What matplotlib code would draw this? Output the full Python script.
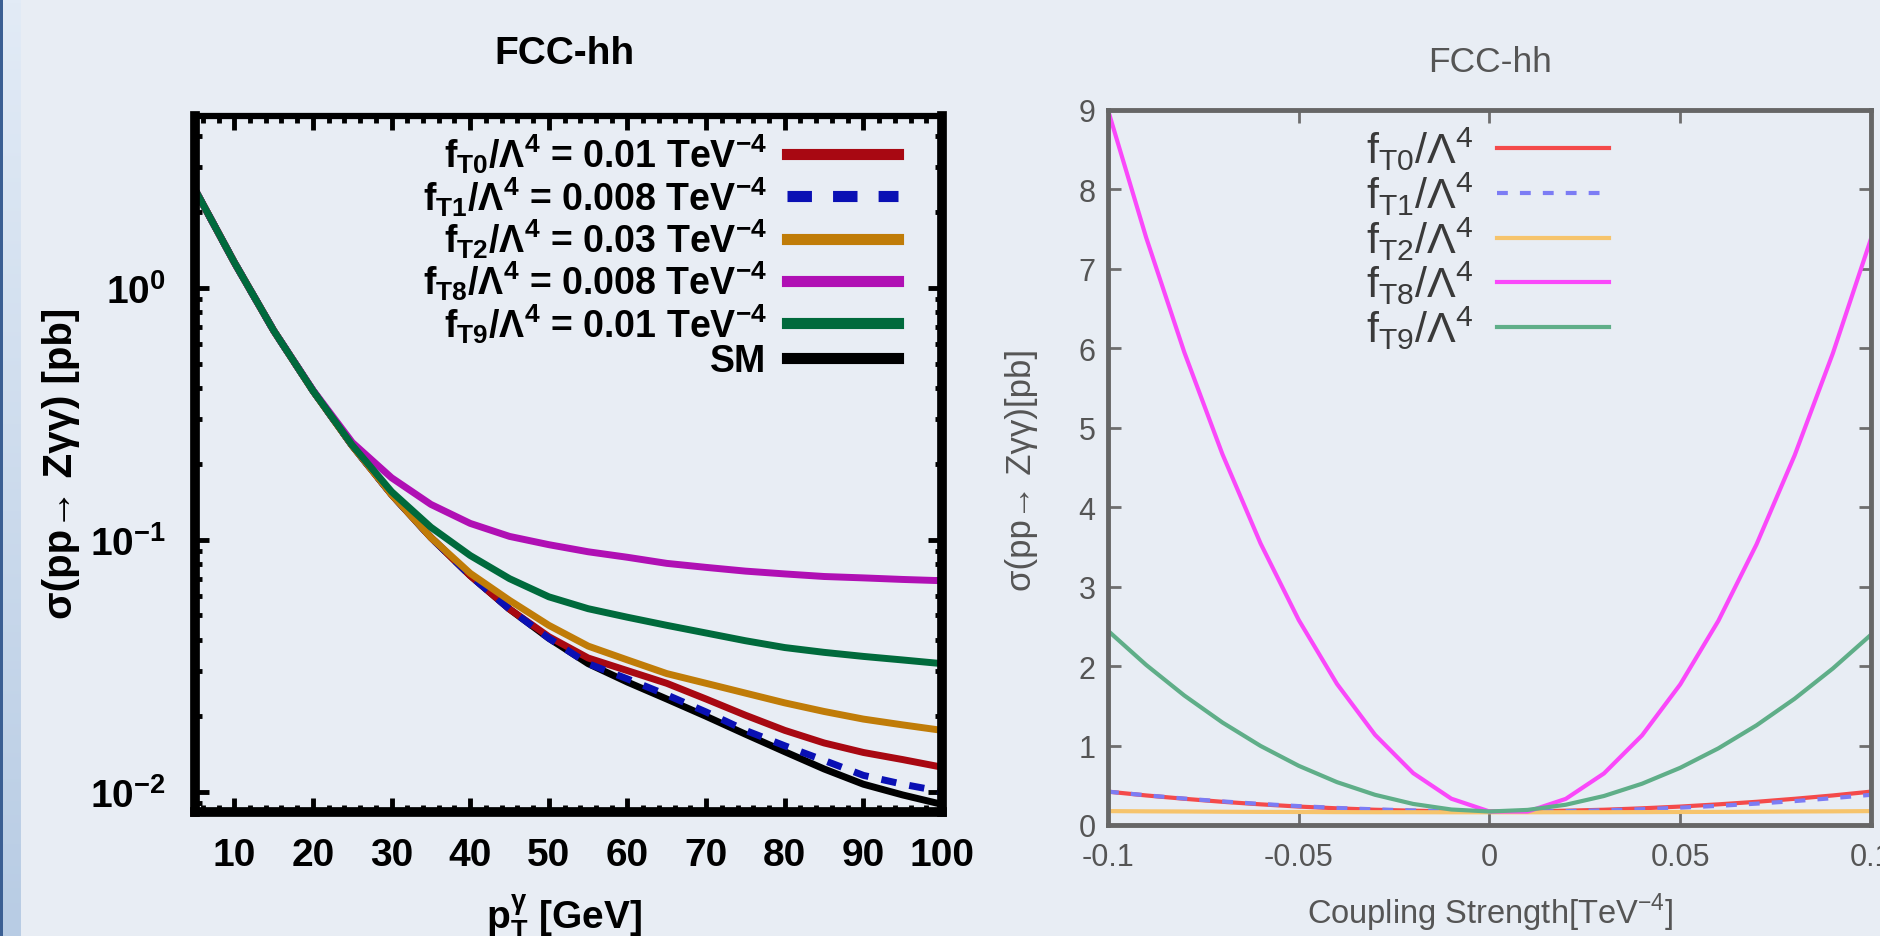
import matplotlib
matplotlib.use("Agg")
import matplotlib.pyplot as plt
import numpy as np
from matplotlib.font_manager import FontProperties
from matplotlib.ticker import MultipleLocator, LogLocator, NullFormatter, FixedLocator, FixedFormatter

W, H = 1881, 937

# ---- left panel: cross section against the photon pT cut ----
pt_cut = [5, 10, 15, 20, 25, 30, 35, 40, 45, 50, 55, 60, 65, 70, 75, 80, 85, 90, 95, 100]
xs_sm = [2.45, 1.26, 0.676, 0.39, 0.236, 0.151, 0.102, 0.072, 0.053, 0.0406,
         0.0322, 0.0272, 0.0233, 0.0199, 0.0169, 0.0144, 0.0123, 0.0107, 0.0097, 0.0089]
xs_t0 = [2.45, 1.26, 0.676, 0.39, 0.236, 0.151, 0.102, 0.072, 0.053, 0.0412,
         0.0339, 0.0302, 0.0269, 0.0233, 0.0201, 0.0175, 0.0156, 0.0143, 0.0134, 0.0125]
xs_t1 = [2.45, 1.26, 0.676, 0.39, 0.236, 0.151, 0.102, 0.072, 0.053, 0.0406,
         0.0322, 0.0280, 0.0242, 0.0207, 0.0175, 0.0152, 0.0133, 0.0116, 0.0107, 0.0100]
xs_t2 = [2.45, 1.26, 0.676, 0.39, 0.236, 0.151, 0.102, 0.0735, 0.0574, 0.0457,
         0.0378, 0.0333, 0.0294, 0.0269, 0.0246, 0.0225, 0.0208, 0.0194, 0.0184, 0.0175]
xs_t8 = [2.45, 1.26, 0.676, 0.392, 0.243, 0.176, 0.138, 0.116, 0.103, 0.0955,
         0.0895, 0.0851, 0.0805, 0.0776, 0.075, 0.0731, 0.0714, 0.0705, 0.0695, 0.0687]
xs_t9 = [2.45, 1.26, 0.676, 0.39, 0.237, 0.155, 0.112, 0.0865, 0.0700, 0.0593,
         0.0532, 0.0492, 0.0457, 0.0426, 0.0397, 0.0373, 0.0357, 0.0344, 0.0333, 0.0322]
op_names = ["T0", "T1", "T2", "T8", "T9"]
op_values = ["0.01", "0.008", "0.03", "0.008", "0.01"]

# ---- right panel: cross section against the coupling strength ----
coupling = [-0.10, -0.09, -0.08, -0.07, -0.06, -0.05, -0.04, -0.03, -0.02, -0.01, 0.0,
            0.01, 0.02, 0.03, 0.04, 0.05, 0.06, 0.07, 0.08, 0.09, 0.10]
scan_t0 = [0.42, 0.372, 0.33, 0.292, 0.26, 0.232, 0.21, 0.192, 0.18, 0.172, 0.17,
           0.172, 0.18, 0.192, 0.21, 0.232, 0.26, 0.292, 0.33, 0.372, 0.42]
scan_t1 = [0.42, 0.374, 0.333, 0.297, 0.265, 0.238, 0.215, 0.197, 0.183, 0.174, 0.17,
           0.170, 0.175, 0.185, 0.199, 0.218, 0.241, 0.269, 0.301, 0.338, 0.38]
scan_t2 = [0.175, 0.172, 0.17, 0.167, 0.165, 0.164, 0.162, 0.161, 0.161, 0.16, 0.16,
           0.16, 0.161, 0.161, 0.162, 0.164, 0.165, 0.167, 0.17, 0.172, 0.175]
scan_t8 = [9.0, 7.395, 5.951, 4.667, 3.543, 2.58, 1.777, 1.135, 0.653, 0.331, 0.17,
           0.169, 0.329, 0.649, 1.129, 1.77, 2.571, 3.533, 4.655, 5.937, 7.38]
scan_t9 = [2.445, 2.015, 1.63, 1.29, 0.995, 0.745, 0.54, 0.38, 0.265, 0.195, 0.17,
           0.19, 0.255, 0.365, 0.52, 0.72, 0.965, 1.255, 1.59, 1.97, 2.395]
coupling_ticks = [-0.1, -0.05, 0, 0.05, 0.1]
coupling_ticklabels = ["-0.1", "-0.05", "0", "0.05", "0.1"]

BOLD = ["Liberation Sans", "DejaVu Sans"]
REG = ["Liberation Sans", "DejaVu Sans"]
BG = "#e8edf4"


def bold(size):
    return FontProperties(family=BOLD, weight="bold", size=size)


fig = plt.figure(figsize=(W / 100, H / 100), dpi=100, facecolor=BG)

# blue strip down the left edge
strip = fig.add_axes([3 / W, 0, 18 / W, 1])
grad = np.linspace(0, 1, 256).reshape(-1, 1)
strip.imshow(grad, aspect="auto", extent=(0, 1, 0, 1),
             cmap=matplotlib.colors.LinearSegmentedColormap.from_list("s", ["#e2ebf6", "#b8cce4"]))
strip.axis("off")
edge = fig.add_axes([0, 0, 3 / W, 1])
edge.set_facecolor("#3b5f93")
edge.set_xticks([])
edge.set_yticks([])
for s in edge.spines.values():
    s.set_visible(False)

# ================= left panel =================
ax1 = fig.add_axes([195 / W, 1 - 813 / H, 747 / W, 696 / H])
ax1.set_facecolor("none")

left_colors = ["#a80812", "#0a10b4", "#c07c08", "#b010b4", "#006a3c"]
left_series = [xs_t0, xs_t1, xs_t2, xs_t8, xs_t9]
for name, val, col, ys in zip(op_names, op_values, left_colors, left_series):
    ls = (0, (2.2, 1.9)) if name == "T1" else "-"
    ax1.plot(pt_cut, ys, color=col, lw=5, ls=ls,
             label=r"$\mathdefault{f_{%s}/\Lambda^{4}}$ = %s TeV$^{\mathdefault{-4}}$" % (name, val))
ax1.plot(pt_cut, xs_sm, color="black", lw=5, label="SM", zorder=1.9)

ax1.set_yscale("log")
ax1.set_xlim(5, 100)
ax1.set_ylim(0.0083, 4.8)
ax1.xaxis.set_major_locator(MultipleLocator(10))
ax1.xaxis.set_minor_locator(MultipleLocator(2))
ax1.yaxis.set_major_locator(LogLocator(base=10))
ax1.yaxis.set_minor_locator(LogLocator(base=10, subs=np.arange(2, 10)))
ax1.yaxis.set_minor_formatter(NullFormatter())
ax1.tick_params(which="both", direction="in", top=True, right=True, colors="black", width=3.5)
ax1.tick_params(which="major", length=10)
ax1.tick_params(which="minor", length=5)
ax1.tick_params(axis="x", pad=18)
ax1.tick_params(axis="y", pad=21)
for lab in ax1.get_xticklabels() + ax1.get_yticklabels():
    lab.set_fontproperties(bold(28))
for side, s in ax1.spines.items():
    s.set_linewidth(4.5 if side == "top" else 7)
    s.set_color("black")

leg1 = ax1.legend(loc="upper right", bbox_to_anchor=(0.941, 0.978), markerfirst=False,
                  frameon=False, prop=bold(27), handlelength=2.95, handletextpad=0.55,
                  labelspacing=-0.04, borderpad=0, borderaxespad=0)
for h in leg1.legend_handles:
    h.set_linewidth(8)

fig.text(564 / W, 1 - 54 / H, "FCC-hh", ha="center", va="center", fontproperties=bold(28))
fig.text(61 / W, 1 - 463 / H, "σ(pp→ Zγγ) [pb]", ha="center", va="center", rotation=90,
         fontproperties=bold(29))
fig.text(564 / W, 1 - 918 / H, r"$\mathdefault{p_{T}^{\gamma}}$ [GeV]", ha="center", va="center",
         fontproperties=bold(28))

# ================= right panel =================
ax2 = fig.add_axes([1108 / W, 1 - 826 / H, 763 / W, 715 / H])
ax2.set_facecolor("none")
right_colors = ["#f44a4a", "#7c7cf4", "#f6c46c", "#fa48fa", "#5fae88"]
right_series = [scan_t0, scan_t1, scan_t2, scan_t8, scan_t9]
for name, col, ys in zip(op_names, right_colors, right_series):
    ls = (0, (2.6, 2.9)) if name == "T1" else "-"
    ax2.plot(coupling, ys, color=col, lw=3, ls=ls,
             label=r"$\mathdefault{f_{%s}/\Lambda^{4}}$" % name)

ax2.set_xlim(-0.1, 0.1)
ax2.set_ylim(0, 9)
ax2.xaxis.set_major_locator(FixedLocator(coupling_ticks))
ax2.xaxis.set_major_formatter(FixedFormatter(coupling_ticklabels))
ax2.yaxis.set_major_locator(MultipleLocator(1))
ax2.tick_params(direction="in", top=True, right=True, length=9, width=2,
                color="#6e6e6e", labelcolor="#555555", labelsize=22)
ax2.tick_params(axis="x", pad=12)
ax2.tick_params(axis="y", pad=9)
for lab in ax2.get_xticklabels() + ax2.get_yticklabels():
    lab.set_family(REG)
for s in ax2.spines.values():
    s.set_linewidth(3.5)
    s.set_color("#666666")

leg2 = ax2.legend(loc="upper right", bbox_to_anchor=(0.657, 0.979), markerfirst=False,
                  frameon=False, prop=FontProperties(family=REG, size=31),
                  handlelength=2.6, handletextpad=0.56, labelspacing=-0.06,
                  borderpad=0, borderaxespad=0)
for t in leg2.get_texts():
    t.set_color("#3a3a3a")

gray = "#555555"
fig.text(1490 / W, 1 - 63 / H, "FCC-hh", ha="center", va="center", color=gray,
         fontproperties=FontProperties(family=REG, size=25.5))
fig.text(1022 / W, 1 - 470 / H, "σ(pp→ Zγγ)[pb]", ha="center", va="center", rotation=90,
         color=gray, fontproperties=FontProperties(family=REG, size=25))
fig.text(1490 / W, 1 - 913 / H, r"Coupling Strength[TeV$^{\mathdefault{-4}}$]", ha="center",
         va="center", color=gray, fontproperties=FontProperties(family=REG, size=23.5))

fig.savefig("out.png", dpi=100, facecolor=BG)
